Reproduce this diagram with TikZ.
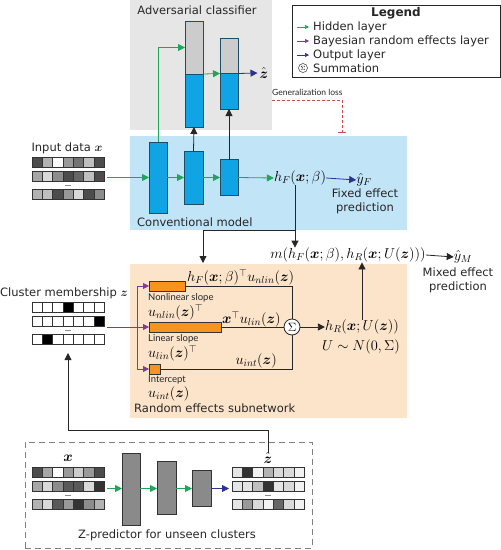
\documentclass[tikz,border=0pt]{standalone}
\usepackage{amsmath}
\usepackage{fontspec}
\setmainfont{DejaVu Sans}
\newfontfamily\smallfont{Lato}
\usetikzlibrary{arrows.meta,calc}
\definecolor{advgray}{HTML}{E6E6E6}
\definecolor{convblue}{HTML}{C2E4F7}
\definecolor{repeach}{HTML}{FCE4CB}
\definecolor{barblue}{HTML}{11A4E4}
\definecolor{barborder}{HTML}{1E4D66}
\definecolor{bargray}{HTML}{CCCCCC}
\definecolor{orangebar}{HTML}{F7941D}
\definecolor{hidgreen}{HTML}{1FA45A}
\definecolor{bayespurple}{HTML}{7D3C98}
\definecolor{outblue}{HTML}{2E3192}
\definecolor{genred}{HTML}{CC4C4C}
\definecolor{zgray}{HTML}{8A8A8A}
\newcommand\gridblock[5]{%
  \foreach \s [count=\i from 0] in {#3} \filldraw[gcell, fill=black!\s] ({#1+\i*10.3},{#2}) rectangle ++(10.3,10.5);
  \foreach \s [count=\i from 0] in {#4} \filldraw[gcell, fill=black!\s] ({#1+\i*10.3},{#2+14}) rectangle ++(10.3,10.5);
  \foreach \s [count=\i from 0] in {#5} \filldraw[gcell, fill=black!\s] ({#1+\i*10.3},{#2+32}) rectangle ++(10.3,10.5);
  \draw[black!45, line width=0.6pt] ({#1+33},{#2+28.5}) -- ({#1+39},{#2+28.5});
}
\begin{document}
\begin{tikzpicture}[x=1pt,y=-1pt,
  txt/.style={font=\fontsize{11.5}{14}\selectfont, inner sep=0, text=black!85},
  smalltxt/.style={font=\smallfont\fontsize{9.5}{11}\selectfont, inner sep=0, text=black!85},
  mth/.style={font=\fontsize{14}{16}\selectfont, inner sep=0},
  region/.style={inner sep=0, outer sep=0},
  cbar/.style={draw=barborder, fill=barblue, line width=0.8pt, inner sep=0, outer sep=0},
  abar/.style={draw=barborder, line width=0.8pt, inner sep=0, outer sep=0},
  obar/.style={draw=black!80, fill=orangebar, line width=0.7pt, inner sep=0, outer sep=0},
  zbar/.style={draw=black!80, fill=zgray, line width=0.8pt, inner sep=0, outer sep=0},
  gcell/.style={draw=black!80, line width=0.5pt},
  gridnode/.style={inner sep=0, outer sep=0, minimum width=72, minimum height=43},
  hid/.style={hidgreen, line width=0.8pt, -{Triangle[length=7pt,width=7pt]}},
  bay/.style={bayespurple, line width=0.8pt, -{Triangle[length=6pt,width=6pt]}},
  outa/.style={outblue, line width=0.8pt, -{Triangle[length=7pt,width=7pt]}},
  blk/.style={black!85, line width=0.8pt, -{Triangle[length=7pt,width=7pt]}},
  ln/.style={black!85, line width=0.8pt},
]
\useasboundingbox (0,0) rectangle (501,550);

% ---------- regions ----------
\node[region, fill=advgray, minimum width=142, minimum height=130] (adv) at (201,65) {};
\node[region, fill=convblue, minimum width=277, minimum height=94] (conv) at (268.5,183) {};
\node[region, fill=repeach, minimum width=277, minimum height=154] (re) at (268.5,341) {};
\node[region, draw=black!85, line width=0.8pt, minimum width=208, minimum height=72] (leg) at (396,41) {};
\node[region, draw=black!50, dash pattern=on 6pt off 4pt, line width=0.8pt, minimum width=287, minimum height=106] (zbox) at (168.5,495) {};

% ---------- legend ----------
\node[txt, font=\bfseries\fontsize{12}{14}\selectfont] (legt) at (396,13) {Legend};
\draw[hidgreen, line width=0.7pt, -{Triangle[length=4pt,width=4pt]}] (297,27) -- (309,27);
\node[txt, anchor=west] (l1) at (313,27) {Hidden layer};
\draw[bayespurple, line width=0.7pt, -{Triangle[length=4pt,width=4pt]}] (297,41) -- (309,41);
\node[txt, anchor=west] (l2) at (313,41) {Bayesian random effects layer};
\draw[outblue, line width=0.7pt, -{Triangle[length=4pt,width=4pt]}] (297,55) -- (309,55);
\node[txt, anchor=west] (l3) at (313,55) {Output layer};
\node[circle, draw=black!80, line width=0.5pt, minimum size=9, inner sep=0, font=\fontsize{6}{6}\selectfont] (l4c) at (303,68) {$\Sigma$};
\node[txt, anchor=west] (l4) at (313,68) {Summation};

% ---------- adversarial classifier ----------
\node[txt] (advt) at (197,10) {Adversarial classifier};
\node[abar, minimum width=18, minimum height=106] (a1) at (194,74) {};
\fill[bargray] (a1.north west) rectangle (a1.east);
\fill[barblue] (a1.west) rectangle (a1.south east);
\draw[barborder, line width=0.8pt] (a1.north west) rectangle (a1.south east);
\draw[barborder, line width=0.8pt] (a1.west) -- (a1.east);
\node[abar, minimum width=18, minimum height=71] (a2) at (229,73.5) {};
\fill[bargray] (a2.north west) rectangle (a2.east);
\fill[barblue] (a2.west) rectangle (a2.south east);
\draw[barborder, line width=0.8pt] (a2.north west) rectangle (a2.south east);
\draw[barborder, line width=0.8pt] (a2.west) -- (a2.east);
\node[mth] (zhat1) at (264,73) {$\hat{\boldsymbol{z}}$};
\draw[hid] (a1.east) -- (a2.west);
\draw[outa] (a2.east) -- ([xshift=-2pt]zhat1.west);

% ---------- generalization loss ----------
\node[smalltxt, font=\smallfont\fontsize{8.5}{10}\selectfont, anchor=west] (gen) at (272,92) {Generalization loss};
\coordinate (g1) at (272,100);
\coordinate (g2) at (342,133);
\draw[genred, dash pattern=on 3pt off 2pt, line width=0.7pt, -{Bar[width=8pt]}] (g1) -| (g2);

% ---------- input data ----------
\node[txt] (inpt) at (67,148) {Input data $\boldsymbol{x}$};
\gridblock{32}{157}{70,30,0,40,55,25,70}{35,15,45,70,60,25,70}{30,25,70,40,15,70,45}
\node[gridnode] (inpgrid) at (68,178.5) {};

% ---------- conventional model ----------
\node[cbar, minimum width=18, minimum height=71] (c1) at (158,177.5) {};
\node[cbar, minimum width=19, minimum height=53] (c2) at (193.5,177.5) {};
\node[cbar, minimum width=18, minimum height=36] (c3) at (229,177.5) {};
\node[mth] (hF) at (300,178) {$h_F(\boldsymbol{x};\beta)$};
\node[mth] (yF) at (364,180) {$\hat{y}_F$};
\node[txt, align=center] (fep) at (365,201) {Fixed effect\\prediction};
\node[txt, anchor=west] (convt) at (137,222) {Conventional model};
\draw[hid] ([xshift=3pt]inpgrid.east |- c1.west) -- (c1.west);
\draw[hid] (c1.east) -- (c2.west);
\draw[hid] (c2.east) -- (c3.west);
\draw[hid] (c3.east) -- (hF.west);
\draw[outa] (hF.east) -- (yF.west);
\draw[hid] (c1.north) |- ($(a1.north west)!0.25!(a1.south west)$);
\draw[blk] (c2.north) -- (a1.south);
\draw[blk] (c3.north) -- (a2.south);

% ---------- mixed effect ----------
\node[mth] (m) at (348,255) {$m(h_F(\boldsymbol{x};\beta),h_R(\boldsymbol{x};U(\boldsymbol{z})))$};
\node[mth] (yM) at (463,257) {$\hat{y}_M$};
\node[txt, align=center] (mep) at (458,280) {Mixed effect\\prediction};
\draw[blk] (m.east) -- (yM.west);
\coordinate (reIn) at (203,263);
\draw[blk] ([xshift=-5pt]hF.south) -- ([xshift=-5pt]hF.south |- m.north);
\draw[blk] ([xshift=-5pt]hF.south |- conv.south) -| (reIn);

% ---------- cluster membership ----------
\node[txt] (clt) at (64,293) {Cluster membership $\boldsymbol{z}$};
\gridblock{32}{302}{0,0,0,100,0,0,0}{0,0,0,0,0,0,100}{0,100,0,0,0,0,0}
\node[gridnode] (clgrid) at (68,323.5) {};

% ---------- random effects subnetwork ----------
\node[obar, minimum width=36, minimum height=10] (nl) at (167,286) {};
\node[obar, minimum width=72, minimum height=10] (li) at (185,327) {};
\node[obar, minimum width=11, minimum height=10] (ic) at (154.5,369) {};
\coordinate (br) at (137,327);
\draw[bayespurple, line width=0.8pt] ([xshift=3pt]clgrid.east |- br) -- (br);
\draw[bay] (br) |- (nl.west);
\draw[bay] (br) -- (li.west);
\draw[bay] (br) |- (ic.west);
\node[smalltxt, anchor=west] (nlt) at (148,297.5) {Nonlinear slope};
\node[mth, anchor=west] (nlu) at (148,312) {$u_{nlin}(\boldsymbol{z})^{\top}$};
\node[smalltxt, anchor=west] (lit) at (148,338.5) {Linear slope};
\node[mth, anchor=west] (liu) at (148,353) {$u_{lin}(\boldsymbol{z})^{\top}$};
\node[smalltxt, anchor=west] (ict) at (148,380) {Intercept};
\node[mth, anchor=west] (icu) at (148,394) {$u_{int}(\boldsymbol{z})$};
\node[txt, anchor=west] (ret) at (134,408) {Random effects subnetwork};
\node[circle, draw=black!85, fill=white, line width=0.8pt, minimum size=16, inner sep=0, font=\fontsize{12}{12}\selectfont] (sig) at (292,327) {$\Sigma$};
\draw[ln] (nl.east) -| (sig.north);
\draw[ln] (li.east) -- (sig.west);
\draw[ln] (ic.east) -| (sig.south);
\node[mth, anchor=west] (lnl) at (187,277) {$h_F(\boldsymbol{x};\beta)^{\top}u_{nlin}(\boldsymbol{z})$};
\node[mth, anchor=west] (lli) at (222,319) {$\boldsymbol{x}^{\top}u_{lin}(\boldsymbol{z})$};
\node[mth, anchor=east] (lic) at (277,361) {$u_{int}(\boldsymbol{z})$};
\node[mth] (hR) at (362,327) {$h_R(\boldsymbol{x};U(\boldsymbol{z}))$};
\node[mth] (UN) at (361,347) {$U\sim N(0,\Sigma)$};
\draw[blk] (sig.east) -- (hR.west);
\draw[blk] (hR.north) -- (hR.north |- m.south);

% ---------- Z-predictor ----------
\node[mth] (zx) at (68,458) {$\boldsymbol{x}$};
\gridblock{32}{467}{70,35,0,40,20,40,70}{35,15,45,65,65,15,80}{30,15,65,40,80,45,30}
\node[gridnode] (zin) at (68,488.5) {};
\node[zbar, minimum width=18, minimum height=72] (z1) at (131,489) {};
\node[zbar, minimum width=19, minimum height=53] (z2) at (166.5,488) {};
\node[zbar, minimum width=19, minimum height=36] (z3) at (201.5,488) {};
\gridblock{232}{467}{10,80,5,30,15,15,5}{10,10,25,80,10,15,5}{10,40,15,5,60,15,5}
\node[gridnode] (zout) at (268,488.5) {};
\node[mth] (zhat2) at (268,458) {$\hat{\boldsymbol{z}}$};
\draw[hid] ([xshift=3pt]zin.east) -- (z1.west |- zin.east);
\draw[hid] (z1.east |- zin.east) -- (z2.west |- zin.east);
\draw[hid] (z2.east |- zin.east) -- (z3.west |- zin.east);
\draw[outa] (z3.east |- zin.east) -- ([xshift=-3pt]zout.west);
\node[txt] (zt) at (167,535) {Z-predictor for unseen clusters};
\coordinate (turn) at (68,430);
\draw[blk] (zhat2.north) |- (turn) -- ([yshift=-8pt]clgrid.south);
\end{tikzpicture}
\end{document}
